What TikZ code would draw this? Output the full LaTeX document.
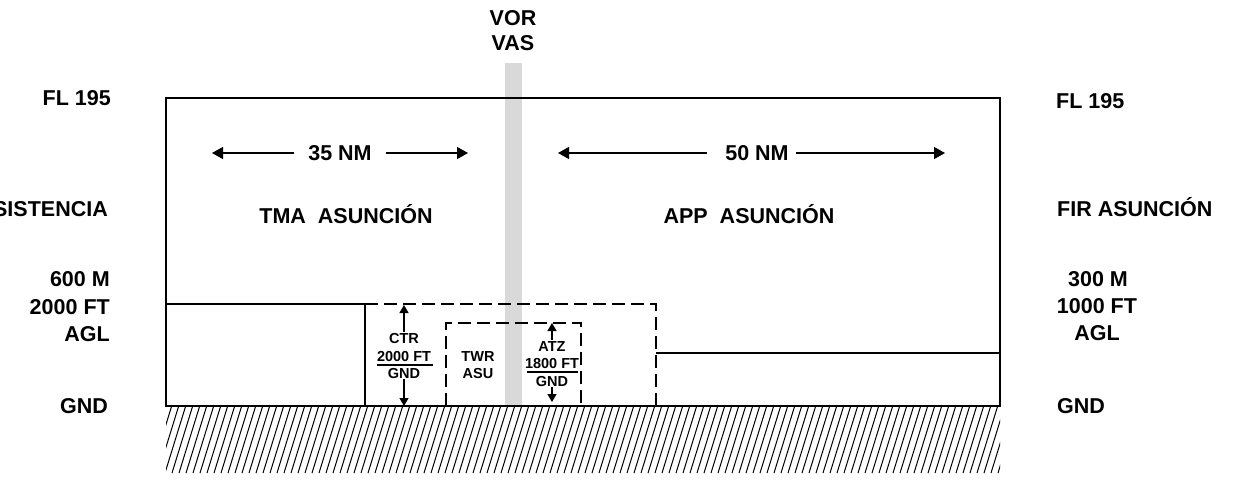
\documentclass[tikz,border=0pt]{standalone}
\usepackage{fontspec}
\setmainfont{Liberation Sans}
\usetikzlibrary{arrows.meta}
\begin{document}
\begin{tikzpicture}[x=1pt,y=-1pt,
  big/.style={font=\bfseries\fontsize{21.5}{26}\selectfont, inner sep=0pt},
  small/.style={font=\bfseries\fontsize{14.5}{17}\selectfont, inner sep=0pt},
  edge/.style={line width=1.3pt},
  dashedge/.style={line width=1.3pt, dash pattern=on 13pt off 6pt},
  bigarrow/.style={line width=1.3pt, -{Triangle[length=11pt,width=12pt]}},
  smallarrow/.style={line width=1.2pt, -{Triangle[length=8pt,width=9pt]}},
  hatch/.style={line width=1pt}
]
\useasboundingbox (0,0) rectangle (1237,488);
\clip (0,0) rectangle (1237,488);

% VOR bar
\fill[black!15] (505,63) rectangle (522,406);

% hatched ground
\begin{scope}
  \clip (166,407) rectangle (1000,473);
  \foreach \x in {130,137,...,1010} \draw[hatch] (\x,473) -- ++(21,-68);
\end{scope}

% airspace outlines
\draw[edge] (166,98) rectangle (1000,406);
\draw[edge] (166,304) -- (365,304) -- (365,406);
\draw[dashedge] (365,304) -- (656,304) -- (656,406);
\draw[edge] (656,353) -- (1000,353);
\draw[dashedge] (446,406) -- (446,323) -- (581,323) -- (581,406);

% top labels
\node[big, anchor=base] (vor) at (513,25) {VOR};
\node[big, anchor=base] (vas) at (513,50) {VAS};

% left labels
\node[big, anchor=base east] (flL) at (111,105) {FL 195};
\node[big, anchor=base east] (firL) at (108,216) {SISTENCIA};
\node[big, anchor=base east] (m600) at (110,286) {600 M};
\node[big, anchor=base east] (ft2000) at (110,314) {2000 FT};
\node[big, anchor=base east] (aglL) at (110,341) {AGL};
\node[big, anchor=base east] (gndL) at (108,413) {GND};

% right labels
\node[big, anchor=base west] (flR) at (1056,108) {FL 195};
\node[big, anchor=base west] (firR) at (1057,216) {FIR ASUNCIÓN};
\node[big, anchor=base] (m300) at (1098,286) {300 M};
\node[big, anchor=base] (ft1000) at (1097,313) {1000 FT};
\node[big, anchor=base] (aglR) at (1097,340) {AGL};
\node[big, anchor=base west] (gndR) at (1057,413) {GND};

% distances
\node[big] (n35) at (340,153) {35 NM};
\coordinate (l35) at (212,153);
\coordinate (r35) at (468,153);
\draw[bigarrow] ([xshift=-14pt]n35.west) -- (l35);
\draw[bigarrow] ([xshift=14pt]n35.east) -- (r35);

\node[big] (n50) at (757,153) {50 NM};
\coordinate (l50) at (558,153);
\coordinate (r50) at (945,153);
\draw[bigarrow] ([xshift=-18pt]n50.west) -- (l50);
\draw[bigarrow] ([xshift=7pt]n50.east) -- (r50);

\node[big, anchor=base] (tma) at (346,223) {TMA\ \ ASUNCIÓN};
\node[big, anchor=base] (app) at (749,223) {APP\ \ ASUNCIÓN};

% CTR
\node[small, anchor=base] (ctr) at (404,343) {CTR};
\node[small, anchor=base] (ctrft) at (404,361) {2000 FT};
\node[small, anchor=base] (ctrgnd) at (404,378) {GND};
\coordinate (ctrtop) at (404,305);
\coordinate (ctrbot) at (404,406);
\draw[line width=1.2pt] (377,365) -- (433,365);
\draw[smallarrow] ([yshift=1pt]ctr.north) -- (ctrtop);
\draw[smallarrow] ([yshift=-1pt]ctrgnd.south) -- (ctrbot);

% TWR
\node[small, anchor=base] (twr) at (478,361) {TWR};
\node[small, anchor=base] (asu) at (478,378) {ASU};

% ATZ
\node[small, anchor=base] (atz) at (552,351) {ATZ};
\node[small, anchor=base] (atzft) at (552,368) {1800 FT};
\node[small, anchor=base] (atzgnd) at (552,386) {GND};
\coordinate (atztop) at (552,323);
\coordinate (atzbot) at (552,402);
\draw[line width=1.2pt] (527,372) -- (578,372);
\draw[smallarrow] ([yshift=1pt]atz.north) -- (atztop);
\draw[smallarrow] ([yshift=-1pt]atzgnd.south) -- (atzbot);
\end{tikzpicture}
\end{document}
